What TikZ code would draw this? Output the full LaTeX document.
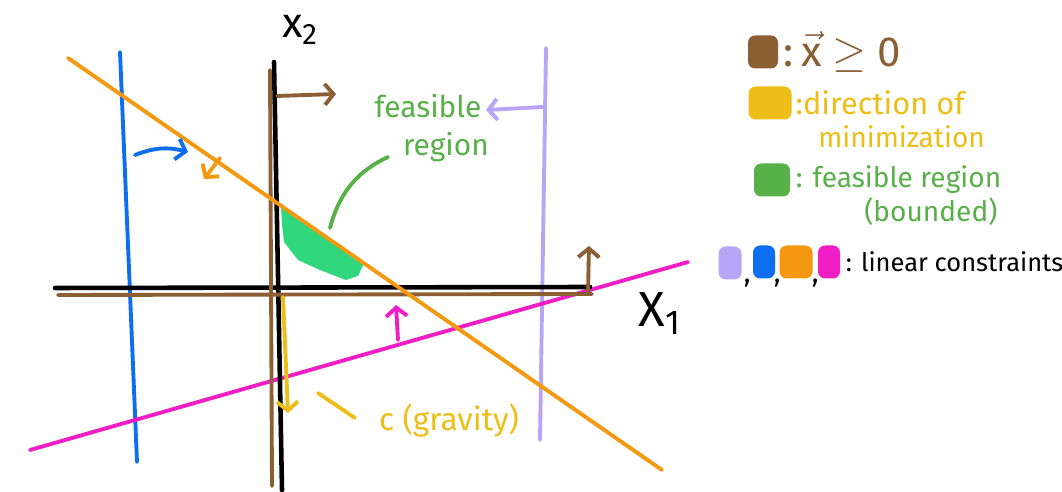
\documentclass[tikz,border=0pt]{standalone}
\usepackage{amsmath}
\usepackage{fontspec}
\setmainfont{Fira Sans}
\usetikzlibrary{arrows.meta,positioning,calc}
\definecolor{xbrown}{HTML}{8C5E34}
\definecolor{myellow}{HTML}{EDBE17}
\definecolor{fgreen}{HTML}{58B049}
\definecolor{region}{HTML}{30D77C}
\definecolor{cblue}{HTML}{0D6EF0}
\definecolor{corange}{HTML}{F4990F}
\definecolor{clav}{HTML}{B7A5F7}
\definecolor{cmag}{HTML}{EE1DC4}

\begin{document}
\begin{tikzpicture}[x=0.02cm,y=-0.02cm,line cap=round,line join=round,
  pen/.style={line width=2.2pt},
  chev/.style={-{Straight Barb[length=5pt,width=12pt]}},
  swatch/.style={fill=#1,rounded corners=4pt,inner sep=0pt,minimum width=0.6cm,minimum height=0.66cm},
  legend/.style={font=\fontsize{16}{19}\selectfont,inner sep=0pt,anchor=west}]
\path[use as bounding box,fill=white] (0,0) rectangle (1062,492);

\coordinate (ra) at (281,206);
\fill[region] (ra) -- (364,263) -- (358,276) -- (346,280) -- (320,270) -- (298,260) -- (284,242) -- (282,224) -- cycle;

\coordinate (bl1) at (120,52);
\coordinate (bl2) at (137,462);
\draw[pen,cblue] (bl1) -- (bl2);
\coordinate (lv1) at (546,48);
\coordinate (lv2) at (540,440);
\draw[pen,clav] (lv1) -- (lv2);
\coordinate (mg1) at (30,450);
\coordinate (mg2) at (688,262);
\draw[pen,cmag] (mg1) -- (mg2);

\coordinate (ax2t) at (274,62);
\coordinate (ax2b) at (282,490);
\coordinate (ax1l) at (55,288);
\coordinate (ax1r) at (590,287);
\draw[line width=2.6pt] (ax2t) -- (ax2b);
\draw[line width=2.6pt] (ax1l) -- (ax1r);
\coordinate (br2t) at (270,70);
\coordinate (br2b) at (272,486);
\coordinate (br1l) at (58,295);
\coordinate (br1r) at (592,294);
\draw[pen,xbrown] (br2t) -- (br2b);
\draw[pen,xbrown] (br1l) -- (br1r);

\coordinate (or1) at (68,58);
\coordinate (or2) at (662,470);
\draw[pen,corange] (or1) -- (or2);

\coordinate (bra) at (277,96);
\coordinate (brb) at (336,94);
\draw[pen,xbrown,chev] (bra) -- (brb);
\coordinate (brc) at (588,292);
\coordinate (brd) at (589,246);
\draw[pen,xbrown,chev] (brc) -- (brd);
\coordinate (bla) at (135,155);
\coordinate (blb) at (188,152);
\draw[pen,cblue,chev] (bla) to[bend left=18] (blb);
\coordinate (ora) at (220,158);
\coordinate (orb) at (204,179);
\draw[pen,corange,chev] (ora) -- (orb);
\coordinate (lva) at (543,107);
\coordinate (lvb) at (486,110);
\draw[pen,clav,chev] (lva) -- (lvb);
\coordinate (mga) at (398,340);
\coordinate (mgb) at (396,305);
\draw[pen,cmag,chev] (mga) -- (mgb);
\coordinate (yla) at (283,297);
\coordinate (ylb) at (288,413);
\draw[pen,myellow,chev] (yla) -- (ylb);

\node[font=\fontsize{24}{28}\selectfont,inner sep=0pt] (x2) at (300,30) {x\textsubscript{2}};
\node[font=\fontsize{28}{32}\selectfont,inner sep=0pt] (x1) at (660,314) {X\textsubscript{1}};

\node[font=\fontsize{17}{21}\selectfont,text=fgreen,align=center,inner sep=0pt] (feas) at (428,128) {feasible\\[1pt]\hspace{1.2em}region};
\coordinate (fa) at (330,228);
\coordinate (fb) at (388,157);
\draw[pen,fgreen] (fa) .. controls (340,190) and (360,170) .. (fb);

\node[font=\fontsize{18}{21}\selectfont,text=myellow,inner sep=0pt] (grav) at (449,421) {c (gravity)};
\coordinate (yg1) at (318,393);
\coordinate (yg2) at (355,418);
\draw[pen,myellow] (yg1) -- (yg2);

\node[swatch=xbrown] (swx) at (763,52) {};
\node[legend,text=xbrown,font=\fontsize{24}{28}\selectfont,right=3pt of swx] (lx) {:\,\(\vec{\text{x}}\) \(\geq\) 0};
\node[swatch=myellow,minimum width=0.86cm] (swy) at (770,103) {};
\node[legend,text=myellow,font=\fontsize{17.5}{21}\selectfont,right=2pt of swy] (ly1) {:direction of};
\node[legend,text=myellow] (ly2) at (818,137) {minimization};
\node[swatch=fgreen,minimum width=0.72cm] (swg) at (772,180) {};
\node[legend,text=fgreen,right=3pt of swg] (lg1) {: feasible region};
\node[legend,text=fgreen] (lg2) at (864,212) {(bounded)};

\node[swatch=clav,minimum width=0.46cm] (sw1) at (730,263) {};
\node[swatch=cblue,minimum width=0.44cm] (sw2) at (764,262) {};
\node[swatch=corange,minimum width=0.66cm] (sw3) at (796,262) {};
\node[swatch=cmag,minimum width=0.44cm] (sw4) at (829,262) {};
\foreach \a/\b in {sw1/sw2,sw2/sw3,sw3/sw4}
  \node[font=\fontsize{16}{19}\selectfont,inner sep=0pt] at ($(\a.south east)!0.5!(\b.south west)+(0,4)$) {,};
\node[legend,font=\fontsize{14.5}{18}\selectfont,right=3pt of sw4] (lc) {: linear constraints};
\end{tikzpicture}
\end{document}
